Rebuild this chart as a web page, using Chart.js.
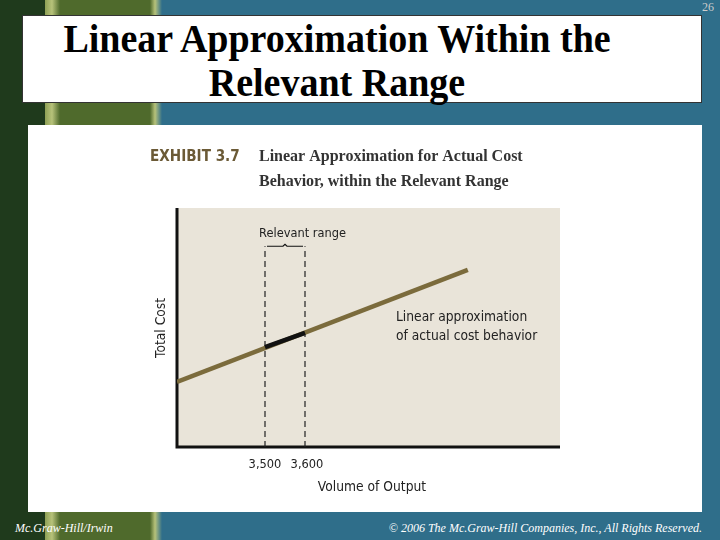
<!DOCTYPE html>
<html><head><meta charset="utf-8">
<script src="https://cdn.jsdelivr.net/npm/chart.js@4/dist/chart.umd.min.js"></script>
<style>
body{margin:0;width:720px;height:540px;overflow:hidden;position:relative;background:linear-gradient(90deg,#1f3a1c 0,#1f3a1c 45px,#8ea055 45px,#b7c27a 52px,#4f6a2c 60px,#4f6a2c 150px,#b7c27a 155px,#2f6e8a 162px,#2f6e8a 100%);font-family:"Liberation Sans",Arial,sans-serif}
.abs{position:absolute}
#title{left:22px;top:15px;width:680px;height:88px;background:#fff;border:1px solid #333;box-sizing:border-box;font-family:"Liberation Serif",serif;font-weight:bold;font-size:40px;line-height:44px;text-align:center;padding-top:1px;padding-right:50px;transform-origin:0 0}
#title span{display:inline-block;transform:scaleX(0.95)}
#panel{left:28px;top:125px;width:674px;height:387px;background:#fff}
#foot1{left:15px;top:521px;color:#fff;font-family:"Liberation Serif",serif;font-style:italic;font-size:12px}
#foot2{right:18px;top:521px;color:#fff;font-family:"Liberation Serif",serif;font-style:italic;font-size:12px}
#pg{right:6px;top:0px;color:#ccc;font-family:"Liberation Serif",serif;font-size:12px}
canvas{position:absolute;left:0;top:0}
</style></head><body>
<div class="abs" id="title"><span>Linear Approximation Within the</span><br><span>Relevant Range</span></div>
<div class="abs" id="pg">26</div>
<div class="abs" id="panel"></div>
<div class="abs" id="foot1">Mc.Graw-Hill/Irwin</div>
<div class="abs" id="foot2">© 2006 The Mc.Graw-Hill Companies, Inc., All Rights Reserved.</div>
<div class="abs" style="left:0;top:0;width:720px;height:540px"><canvas id="c" width="720" height="540"></canvas></div>
<script>
const lineX=[3280,4007];
const lineY=[27.2,74.1];
const rangeX=[3500,3600];
const rangeY=[41.8,47.8];
const tickLabels=["3,500","3,600"];
const dashTop=84;

const deco={id:'deco',
beforeDatasetsDraw(ch){const {ctx,chartArea:a,scales:{x,y}}=ch;ctx.save();
ctx.fillStyle='#e9e4d9';ctx.fillRect(a.left,a.top,a.right-a.left,a.bottom-a.top);
ctx.strokeStyle='#111';ctx.lineWidth=3;ctx.beginPath();ctx.moveTo(a.left,a.top);ctx.lineTo(a.left,a.bottom);ctx.lineTo(a.right,a.bottom);ctx.stroke();
const x1=x.getPixelForValue(rangeX[0]),x2=x.getPixelForValue(rangeX[1]),yb=y.getPixelForValue(dashTop);
ctx.lineWidth=1.2;ctx.beginPath();ctx.moveTo(x1+2,yb);ctx.lineTo((x1+x2)/2-2,yb);ctx.lineTo((x1+x2)/2,yb-2);ctx.lineTo((x1+x2)/2+2,yb);ctx.lineTo(x2-2,yb);ctx.stroke();
ctx.fillStyle='#222';ctx.textAlign='left';ctx.textBaseline='alphabetic';
const cond=(t,px,py,sz,sx)=>{ctx.save();ctx.translate(px,py);ctx.scale(sx||0.88,1);ctx.font=sz+'px "DejaVu Sans",sans-serif';ctx.fillText(t,0,0);ctx.restore();};
cond('Relevant range',x1-6,yb-9,13);
cond('Linear approximation',396,321,14);cond('of actual cost behavior',396,340,14);
ctx.textAlign='center';
rangeX.forEach((v,i)=>cond(tickLabels[i],x.getPixelForValue(v)+(i?2:0),468,13));
cond('Volume of Output',372,491,14);
ctx.save();ctx.translate(165,328);ctx.rotate(-Math.PI/2);cond('Total Cost',0,0,14);ctx.restore();
ctx.textAlign='left';ctx.fillStyle='#6b5a36';
ctx.save();ctx.translate(150,161);ctx.scale(0.85,1);ctx.font='bold 16px "DejaVu Sans",sans-serif';ctx.fillText('EXHIBIT 3.7',0,0);ctx.restore();
ctx.font='bold 16px "Liberation Serif",serif';ctx.fillStyle='#333';
ctx.fillText('Linear Approximation for Actual Cost',259,161);ctx.fillText('Behavior, within the Relevant Range',259,186);
ctx.restore();}};

new Chart(document.getElementById('c'),{type:'scatter',
data:{datasets:[
{data:rangeX.map((v,i)=>({x:v,y:rangeY[i]})),showLine:true,borderColor:'#111',borderWidth:4.5,pointRadius:0},
{data:lineX.map((v,i)=>({x:v,y:lineY[i]})),showLine:true,borderColor:'#7b6b3c',borderWidth:4.5,pointRadius:0},
{data:[{x:rangeX[0],y:0},{x:rangeX[0],y:dashTop}],showLine:true,borderColor:'#222',borderWidth:1.2,borderDash:[6,4],pointRadius:0},
{data:[{x:rangeX[1],y:0},{x:rangeX[1],y:dashTop}],showLine:true,borderColor:'#222',borderWidth:1.2,borderDash:[6,4],pointRadius:0}
]},
options:{responsive:false,animation:false,layout:{padding:{left:177,right:160,top:208,bottom:93}},
plugins:{legend:{display:false},tooltip:{enabled:false}},
scales:{x:{type:'linear',min:3280,max:4237.5,display:false},y:{min:0,max:100,display:false}}},
plugins:[deco]});
</script></body></html>
